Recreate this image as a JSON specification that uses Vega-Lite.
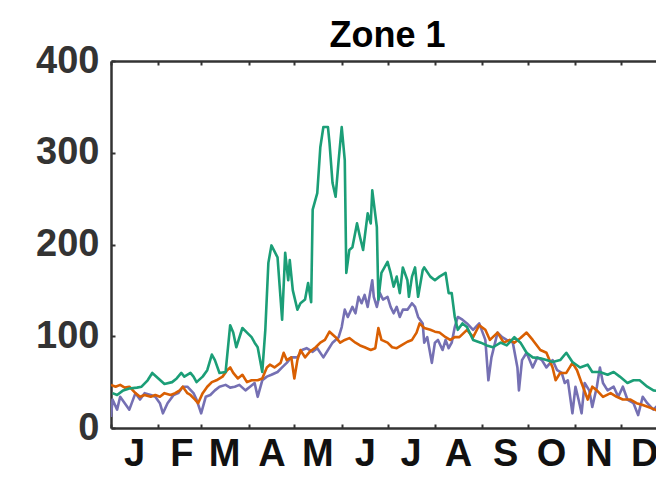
{
  "$schema": "https://vega.github.io/schema/vega-lite/v6.json",
  "autosize": "none",
  "width": 545,
  "height": 367,
  "padding": {"left": 111, "top": 61, "right": 0, "bottom": 55},
  "background": "white",
  "config": {"view": {"stroke": null}},
  "title": {"text": "Zone 1", "font": "Liberation Sans", "fontSize": 36, "fontWeight": "bold", "color": "#000", "frame": "group", "anchor": "middle", "orient": "top", "offset": -13, "dx": 4},
  "datasets": {
    "pts": [
      {"s":"P","d":0,"v":12},{"s":"P","d":1,"v":31},{"s":"P","d":4,"v":20},{"s":"P","d":6,"v":34},{"s":"P","d":9,"v":27},{"s":"P","d":12,"v":20},{"s":"P","d":16,"v":38},{"s":"P","d":19,"v":31},{"s":"P","d":22,"v":38},{"s":"P","d":26,"v":36},{"s":"P","d":29,"v":34},{"s":"P","d":32,"v":27},{"s":"P","d":34,"v":16},{"s":"P","d":37,"v":27},{"s":"P","d":41,"v":36},{"s":"P","d":44,"v":38},{"s":"P","d":47,"v":45},{"s":"P","d":50,"v":45},{"s":"P","d":54,"v":38},{"s":"P","d":56,"v":31},{"s":"P","d":59,"v":16},{"s":"P","d":62,"v":34},{"s":"P","d":65,"v":36},{"s":"P","d":68,"v":41},{"s":"P","d":71,"v":45},{"s":"P","d":75,"v":47},{"s":"P","d":78,"v":44},{"s":"P","d":81,"v":45},{"s":"P","d":84,"v":47},{"s":"P","d":88,"v":41},{"s":"P","d":91,"v":45},{"s":"P","d":94,"v":49},{"s":"P","d":96,"v":34},{"s":"P","d":99,"v":52},{"s":"P","d":102,"v":56},{"s":"P","d":105,"v":58},{"s":"P","d":109,"v":61},{"s":"P","d":112,"v":66},{"s":"P","d":115,"v":71},{"s":"P","d":118,"v":77},{"s":"P","d":122,"v":77},{"s":"P","d":125,"v":85},{"s":"P","d":128,"v":87},{"s":"P","d":132,"v":83},{"s":"P","d":135,"v":87},{"s":"P","d":139,"v":77},{"s":"P","d":142,"v":85},{"s":"P","d":145,"v":93},{"s":"P","d":149,"v":99},{"s":"P","d":151,"v":110},{"s":"P","d":153,"v":129},{"s":"P","d":155,"v":121},{"s":"P","d":158,"v":132},{"s":"P","d":160,"v":125},{"s":"P","d":162,"v":143},{"s":"P","d":164,"v":136},{"s":"P","d":166,"v":145},{"s":"P","d":168,"v":132},{"s":"P","d":171,"v":161},{"s":"P","d":172,"v":143},{"s":"P","d":174,"v":132},{"s":"P","d":176,"v":147},{"s":"P","d":178,"v":140},{"s":"P","d":181,"v":143},{"s":"P","d":183,"v":132},{"s":"P","d":185,"v":125},{"s":"P","d":187,"v":132},{"s":"P","d":189,"v":121},{"s":"P","d":191,"v":129},{"s":"P","d":194,"v":129},{"s":"P","d":197,"v":136},{"s":"P","d":199,"v":132},{"s":"P","d":201,"v":121},{"s":"P","d":204,"v":114},{"s":"P","d":205,"v":93},{"s":"P","d":207,"v":99},{"s":"P","d":210,"v":71},{"s":"P","d":212,"v":93},{"s":"P","d":214,"v":96},{"s":"P","d":217,"v":85},{"s":"P","d":219,"v":96},{"s":"P","d":221,"v":87},{"s":"P","d":223,"v":93},{"s":"P","d":225,"v":110},{"s":"P","d":227,"v":121},{"s":"P","d":230,"v":118},{"s":"P","d":233,"v":114},{"s":"P","d":237,"v":107},{"s":"P","d":241,"v":114},{"s":"P","d":245,"v":96},{"s":"P","d":247,"v":52},{"s":"P","d":249,"v":77},{"s":"P","d":253,"v":104},{"s":"P","d":256,"v":99},{"s":"P","d":259,"v":96},{"s":"P","d":263,"v":93},{"s":"P","d":266,"v":66},{"s":"P","d":267,"v":41},{"s":"P","d":269,"v":74},{"s":"P","d":272,"v":82},{"s":"P","d":276,"v":66},{"s":"P","d":279,"v":77},{"s":"P","d":282,"v":74},{"s":"P","d":285,"v":66},{"s":"P","d":289,"v":74},{"s":"P","d":292,"v":63},{"s":"P","d":295,"v":60},{"s":"P","d":297,"v":49},{"s":"P","d":299,"v":52},{"s":"P","d":302,"v":16},{"s":"P","d":304,"v":45},{"s":"P","d":306,"v":31},{"s":"P","d":308,"v":16},{"s":"P","d":310,"v":49},{"s":"P","d":313,"v":41},{"s":"P","d":315,"v":23},{"s":"P","d":318,"v":45},{"s":"P","d":320,"v":66},{"s":"P","d":322,"v":49},{"s":"P","d":325,"v":41},{"s":"P","d":329,"v":45},{"s":"P","d":332,"v":34},{"s":"P","d":335,"v":45},{"s":"P","d":338,"v":31},{"s":"P","d":342,"v":27},{"s":"P","d":345,"v":14},{"s":"P","d":348,"v":34},{"s":"P","d":351,"v":27},{"s":"P","d":355,"v":20},{"s":"P","d":358,"v":25},
      {"s":"O","d":0,"v":47},{"s":"O","d":3,"v":45},{"s":"O","d":6,"v":47},{"s":"O","d":9,"v":44},{"s":"O","d":12,"v":45},{"s":"O","d":16,"v":38},{"s":"O","d":19,"v":34},{"s":"O","d":22,"v":36},{"s":"O","d":26,"v":34},{"s":"O","d":29,"v":36},{"s":"O","d":32,"v":34},{"s":"O","d":35,"v":38},{"s":"O","d":39,"v":36},{"s":"O","d":42,"v":38},{"s":"O","d":45,"v":41},{"s":"O","d":47,"v":45},{"s":"O","d":50,"v":38},{"s":"O","d":52,"v":36},{"s":"O","d":55,"v":31},{"s":"O","d":57,"v":27},{"s":"O","d":60,"v":38},{"s":"O","d":63,"v":45},{"s":"O","d":66,"v":50},{"s":"O","d":69,"v":52},{"s":"O","d":73,"v":56},{"s":"O","d":76,"v":63},{"s":"O","d":78,"v":66},{"s":"O","d":80,"v":60},{"s":"O","d":83,"v":54},{"s":"O","d":86,"v":58},{"s":"O","d":89,"v":50},{"s":"O","d":92,"v":52},{"s":"O","d":96,"v":52},{"s":"O","d":99,"v":54},{"s":"O","d":102,"v":66},{"s":"O","d":104,"v":69},{"s":"O","d":107,"v":66},{"s":"O","d":111,"v":71},{"s":"O","d":113,"v":82},{"s":"O","d":115,"v":74},{"s":"O","d":118,"v":77},{"s":"O","d":120,"v":54},{"s":"O","d":122,"v":74},{"s":"O","d":124,"v":85},{"s":"O","d":127,"v":77},{"s":"O","d":130,"v":83},{"s":"O","d":134,"v":88},{"s":"O","d":137,"v":93},{"s":"O","d":140,"v":96},{"s":"O","d":143,"v":105},{"s":"O","d":147,"v":99},{"s":"O","d":150,"v":93},{"s":"O","d":153,"v":96},{"s":"O","d":156,"v":98},{"s":"O","d":160,"v":93},{"s":"O","d":163,"v":90},{"s":"O","d":166,"v":88},{"s":"O","d":170,"v":85},{"s":"O","d":173,"v":87},{"s":"O","d":175,"v":109},{"s":"O","d":177,"v":96},{"s":"O","d":181,"v":93},{"s":"O","d":184,"v":88},{"s":"O","d":187,"v":87},{"s":"O","d":190,"v":90},{"s":"O","d":194,"v":94},{"s":"O","d":197,"v":96},{"s":"O","d":200,"v":104},{"s":"O","d":202,"v":114},{"s":"O","d":205,"v":109},{"s":"O","d":209,"v":107},{"s":"O","d":212,"v":105},{"s":"O","d":215,"v":104},{"s":"O","d":219,"v":99},{"s":"O","d":222,"v":96},{"s":"O","d":225,"v":99},{"s":"O","d":228,"v":99},{"s":"O","d":233,"v":107},{"s":"O","d":237,"v":99},{"s":"O","d":241,"v":112},{"s":"O","d":245,"v":107},{"s":"O","d":248,"v":96},{"s":"O","d":253,"v":104},{"s":"O","d":257,"v":93},{"s":"O","d":261,"v":96},{"s":"O","d":264,"v":93},{"s":"O","d":268,"v":98},{"s":"O","d":272,"v":104},{"s":"O","d":276,"v":96},{"s":"O","d":281,"v":85},{"s":"O","d":285,"v":82},{"s":"O","d":289,"v":66},{"s":"O","d":291,"v":52},{"s":"O","d":294,"v":60},{"s":"O","d":298,"v":60},{"s":"O","d":302,"v":71},{"s":"O","d":305,"v":63},{"s":"O","d":308,"v":49},{"s":"O","d":312,"v":31},{"s":"O","d":315,"v":45},{"s":"O","d":318,"v":41},{"s":"O","d":322,"v":34},{"s":"O","d":327,"v":38},{"s":"O","d":331,"v":34},{"s":"O","d":335,"v":31},{"s":"O","d":340,"v":31},{"s":"O","d":344,"v":27},{"s":"O","d":348,"v":25},{"s":"O","d":353,"v":22},{"s":"O","d":356,"v":20},{"s":"O","d":359,"v":18},
      {"s":"G","d":1,"v":38},{"s":"G","d":4,"v":36},{"s":"G","d":8,"v":41},{"s":"G","d":12,"v":43},{"s":"G","d":17,"v":44},{"s":"G","d":20,"v":45},{"s":"G","d":24,"v":52},{"s":"G","d":27,"v":60},{"s":"G","d":31,"v":54},{"s":"G","d":35,"v":48},{"s":"G","d":40,"v":50},{"s":"G","d":43,"v":54},{"s":"G","d":46,"v":60},{"s":"G","d":48,"v":56},{"s":"G","d":52,"v":60},{"s":"G","d":54,"v":56},{"s":"G","d":56,"v":50},{"s":"G","d":60,"v":56},{"s":"G","d":63,"v":63},{"s":"G","d":66,"v":80},{"s":"G","d":68,"v":74},{"s":"G","d":71,"v":60},{"s":"G","d":75,"v":61},{"s":"G","d":78,"v":112},{"s":"G","d":80,"v":104},{"s":"G","d":82,"v":88},{"s":"G","d":86,"v":109},{"s":"G","d":89,"v":104},{"s":"G","d":92,"v":99},{"s":"G","d":94,"v":93},{"s":"G","d":96,"v":88},{"s":"G","d":99,"v":61},{"s":"G","d":101,"v":107},{"s":"G","d":103,"v":180},{"s":"G","d":105,"v":199},{"s":"G","d":109,"v":186},{"s":"G","d":112,"v":118},{"s":"G","d":114,"v":191},{"s":"G","d":116,"v":161},{"s":"G","d":117,"v":183},{"s":"G","d":119,"v":150},{"s":"G","d":122,"v":129},{"s":"G","d":124,"v":136},{"s":"G","d":127,"v":140},{"s":"G","d":129,"v":158},{"s":"G","d":131,"v":137},{"s":"G","d":132,"v":238},{"s":"G","d":135,"v":256},{"s":"G","d":137,"v":306},{"s":"G","d":139,"v":328},{"s":"G","d":142,"v":328},{"s":"G","d":143,"v":311},{"s":"G","d":145,"v":267},{"s":"G","d":147,"v":252},{"s":"G","d":149,"v":292},{"s":"G","d":151,"v":328},{"s":"G","d":153,"v":292},{"s":"G","d":154,"v":169},{"s":"G","d":156,"v":194},{"s":"G","d":158,"v":197},{"s":"G","d":161,"v":223},{"s":"G","d":163,"v":208},{"s":"G","d":165,"v":194},{"s":"G","d":168,"v":234},{"s":"G","d":170,"v":223},{"s":"G","d":171,"v":259},{"s":"G","d":174,"v":219},{"s":"G","d":175,"v":140},{"s":"G","d":177,"v":169},{"s":"G","d":181,"v":181},{"s":"G","d":183,"v":169},{"s":"G","d":185,"v":154},{"s":"G","d":187,"v":165},{"s":"G","d":189,"v":147},{"s":"G","d":191,"v":175},{"s":"G","d":194,"v":161},{"s":"G","d":195,"v":143},{"s":"G","d":197,"v":165},{"s":"G","d":199,"v":175},{"s":"G","d":201,"v":143},{"s":"G","d":204,"v":172},{"s":"G","d":205,"v":175},{"s":"G","d":209,"v":165},{"s":"G","d":212,"v":161},{"s":"G","d":215,"v":165},{"s":"G","d":219,"v":169},{"s":"G","d":221,"v":147},{"s":"G","d":223,"v":147},{"s":"G","d":225,"v":121},{"s":"G","d":227,"v":107},{"s":"G","d":230,"v":114},{"s":"G","d":233,"v":110},{"s":"G","d":237,"v":96},{"s":"G","d":242,"v":93},{"s":"G","d":246,"v":90},{"s":"G","d":250,"v":88},{"s":"G","d":255,"v":93},{"s":"G","d":259,"v":90},{"s":"G","d":264,"v":99},{"s":"G","d":268,"v":93},{"s":"G","d":272,"v":82},{"s":"G","d":276,"v":77},{"s":"G","d":281,"v":76},{"s":"G","d":285,"v":74},{"s":"G","d":289,"v":72},{"s":"G","d":294,"v":74},{"s":"G","d":298,"v":82},{"s":"G","d":302,"v":72},{"s":"G","d":307,"v":66},{"s":"G","d":312,"v":69},{"s":"G","d":315,"v":61},{"s":"G","d":320,"v":61},{"s":"G","d":325,"v":58},{"s":"G","d":329,"v":61},{"s":"G","d":333,"v":56},{"s":"G","d":338,"v":49},{"s":"G","d":342,"v":52},{"s":"G","d":346,"v":52},{"s":"G","d":351,"v":45},{"s":"G","d":355,"v":41},{"s":"G","d":359,"v":40}
    ],
    "edge": [{"d": 0}]
  },
  "layer": [
    {
      "data": {"name": "pts"},
      "mark": {"type": "line", "strokeWidth": 2.6, "clip": true, "strokeJoin": "round"},
      "encoding": {
        "x": {"field": "d", "type": "quantitative", "scale": {"domain": [0, 356.7], "nice": false, "zero": false},
          "axis": {"orient": "bottom", "title": null, "grid": false,
            "values": [0,31,59,90,120,151,181,212,243,273,304,334],
            "labelExpr": "['J','F','M','A','M','J','J','A','S','O','N','D'][indexof([0,31,59,90,120,151,181,212,243,273,304,334], datum.value)]",
            "labelOffset": 23, "labelFlush": false, "labelOverlap": false, "labelBound": false,
            "labelFont": "Liberation Sans", "labelFontSize": 38, "labelFontWeight": "bold", "labelColor": "#111", "labelPadding": 11,
            "tickSize": -4, "tickWidth": 2, "tickColor": "#333", "domainColor": "#333", "domainWidth": 2.5}},
        "y": {"field": "v", "type": "quantitative", "scale": {"domain": [0, 400], "nice": false},
          "axis": {"title": null, "grid": false, "values": [0,100,200,300,400],
            "labelFont": "Liberation Sans", "labelFontSize": 38, "labelFontWeight": "bold", "labelColor": "#333", "labelPadding": 16,
            "tickSize": -4, "tickWidth": 2, "tickColor": "#333", "domainColor": "#333", "domainWidth": 2.5}},
        "color": {"field": "s", "type": "nominal", "legend": null,
          "scale": {"domain": ["P", "O", "G"], "range": ["#7570b3", "#d95f02", "#1b9e77"]}}
      }
    },
    {
      "data": {"name": "edge"},
      "mark": {"type": "point", "opacity": 0},
      "encoding": {
        "x": {"field": "d", "type": "quantitative",
          "axis": {"orient": "top", "title": null, "grid": false, "labels": false,
            "values": [0,31,59,90,120,151,181,212,243,273,304,334],
            "tickSize": -4, "tickWidth": 2, "tickColor": "#333", "domainColor": "#333", "domainWidth": 2.5}}
      }
    }
  ],
  "resolve": {"axis": {"x": "independent"}}
}
